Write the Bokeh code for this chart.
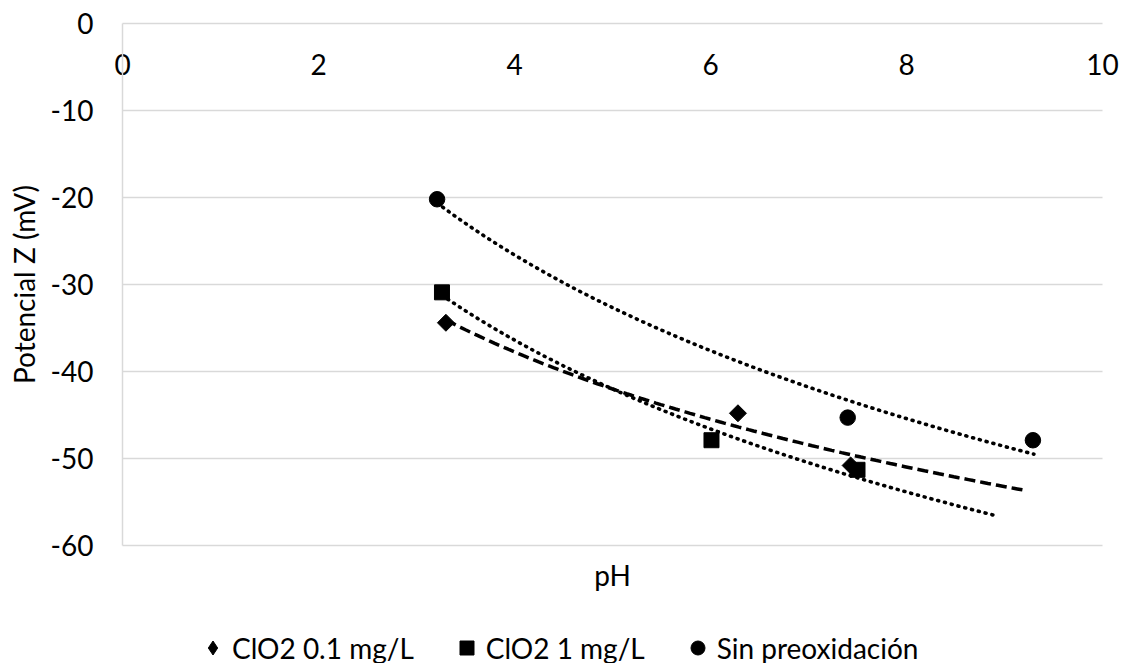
import numpy as np
from bokeh.plotting import figure
from bokeh.models import LinearAxis, FixedTicker, Legend, LegendItem, Range1d, Label
from bokeh.embed import file_html
from bokeh.resources import INLINE

# ---- data ----
ph_01 = [3.30, 6.28, 7.43]
z_01 = [-34.4, -44.8, -50.8]
ph_1 = [3.26, 6.01, 7.50]
z_1 = [-30.9, -47.9, -51.3]
ph_sin = [3.21, 7.40, 9.29]
z_sin = [-20.2, -45.3, -47.9]

# logarithmic trendline extents (pH)
trend_01 = [3.30, 9.23]
trend_1 = [3.26, 8.93]
trend_sin = [3.21, 9.30]

labels = ["ClO2 0.1 mg/L", "ClO2 1 mg/L", "Sin preoxidación"]
x_ticks = [0, 2, 4, 6, 8, 10]
y_ticks = [-60, -50, -40, -30, -20, -10, 0]
grid_ticks = [-60, -50, -40, -30, -20, -10]

FONT = "Lato"
FS = "28px"
GRID = "#d9d9d9"

# layout (pixels) of the plotting area inside the 1123 x 663 canvas
W, H = 1123, 663
PL, PR, PT, PB = 122, 1102, 23, 545
xpx = (PR - PL) / (x_ticks[-1] - x_ticks[0])
ypx = (PB - PT) / (y_ticks[-1] - y_ticks[0])


def log_trend(x, y, rng):
    a, b = np.polyfit(np.log(np.array(x)), np.array(y), 1)
    xs = np.linspace(rng[0], rng[1], 120)
    return xs, a * np.log(xs) + b


p = figure(width=W, height=H, output_backend="svg", toolbar_location=None,
           x_range=Range1d(x_ticks[0] - PL / xpx, x_ticks[-1] + (W - PR) / xpx),
           y_range=Range1d(y_ticks[0] - (H - PB) / ypx, y_ticks[-1] + PT / ypx),
           x_axis_location=None, y_axis_location=None,
           min_border=0, min_border_left=0, min_border_right=0,
           min_border_top=0, min_border_bottom=0)
p.outline_line_color = None
p.background_fill_color = "white"
p.border_fill_color = "white"
p.xgrid.visible = False
p.ygrid.visible = False

# horizontal gridlines limited to the plot area
p.segment(x0=x_ticks[0], x1=x_ticks[-1], y0=grid_ticks, y1=grid_ticks,
          line_color=GRID, line_width=1.5)

# y axis at x = 0
yax = LinearAxis(ticker=FixedTicker(ticks=y_ticks), axis_label="Potencial Z (mV)",
                 fixed_location=x_ticks[0], bounds=(y_ticks[0], y_ticks[-1]))
yax.major_label_overrides = {t: str(t) for t in y_ticks}
yax.axis_line_color = GRID
yax.axis_line_width = 1.5
yax.major_tick_line_color = None
yax.minor_tick_line_color = None
yax.major_tick_out = 0
yax.major_tick_in = 0
yax.major_label_standoff = 29
yax.major_label_text_font = FONT
yax.major_label_text_font_size = FS
yax.major_label_text_color = "black"
yax.axis_label_text_font = FONT
yax.axis_label_text_font_size = FS
yax.axis_label_text_font_style = "normal"
yax.axis_label_text_color = "black"
yax.axis_label_standoff = 7
p.add_layout(yax, "left")

# x axis crossing at y = 0 (top), labels under the line
xax = LinearAxis(ticker=FixedTicker(ticks=x_ticks), fixed_location=y_ticks[-1],
                 bounds=(x_ticks[0], x_ticks[-1]))
xax.major_label_overrides = {t: str(t) for t in x_ticks}
xax.axis_line_color = GRID
xax.axis_line_width = 1.5
xax.major_tick_line_color = None
xax.minor_tick_line_color = None
xax.major_tick_out = 0
xax.major_tick_in = 0
xax.major_label_standoff = 30
xax.major_label_text_font = FONT
xax.major_label_text_font_size = FS
xax.major_label_text_color = "black"
p.add_layout(xax, "below")

# x axis title
p.add_layout(Label(x=(x_ticks[0] + x_ticks[-1]) / 2, y=H - 574, y_units="screen", text="pH",
                   text_font=FONT, text_font_size=FS, text_color="black",
                   text_align="center", text_baseline="middle"))

# trendlines
xs, ys = log_trend(ph_01, z_01, trend_01)
p.line(xs, ys, line_color="black", line_width=3.5, line_dash="11 5")
xs, ys = log_trend(ph_1, z_1, trend_1)
p.line(xs, ys, line_color="black", line_width=3.6, line_dash="1 6", line_cap="round")
xs, ys = log_trend(ph_sin, z_sin, trend_sin)
p.line(xs, ys, line_color="black", line_width=3.6, line_dash="1 6", line_cap="round")

# points
p.scatter(ph_01, z_01, marker="square", angle=np.pi / 4, size=12, color="black")
r2 = p.scatter(ph_1, z_1, marker="square", size=15, color="black")
r3 = p.scatter(ph_sin, z_sin, marker="circle", size=15.5, color="black")

# legend proxy for the diamond (not drawn in the plot: NaN position)
l1 = p.scatter([np.nan], [np.nan], marker="diamond", size=15, color="black")

legend = Legend(items=[LegendItem(label=labels[0], renderers=[l1]),
                       LegendItem(label=labels[1], renderers=[r2]),
                       LegendItem(label=labels[2], renderers=[r3])],
                orientation="horizontal", location=(195, -2),
                glyph_width=35, glyph_height=35, label_standoff=2, spacing=35,
                padding=0, margin=0, border_line_color=None,
                background_fill_alpha=0,
                label_text_font=FONT, label_text_font_size=FS, label_text_color="black")
p.add_layout(legend, "center")

open("out.html", "w").write(file_html(p, INLINE))
